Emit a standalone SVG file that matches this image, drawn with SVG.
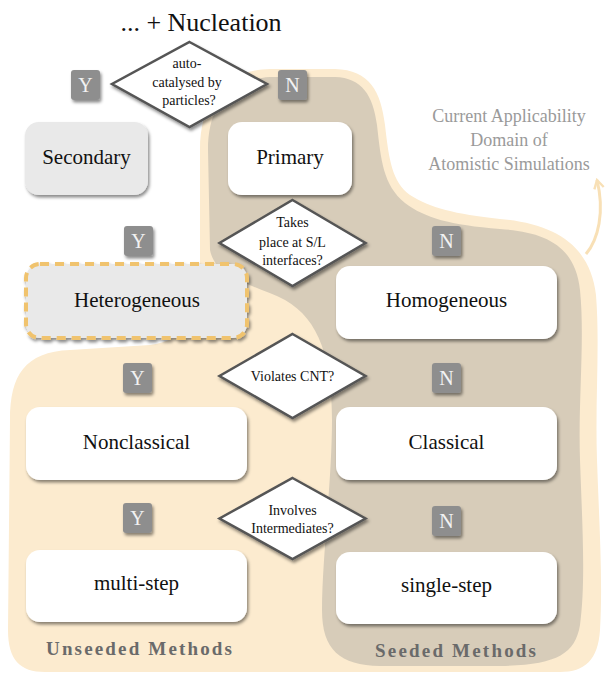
<svg xmlns="http://www.w3.org/2000/svg" width="606" height="673" viewBox="0 0 606 673">
<defs>
<filter id="sh" x="-20%" y="-20%" width="140%" height="150%">
<feDropShadow dx="1.5" dy="2.5" stdDeviation="1.5" flood-color="#000" flood-opacity="0.45"/>
</filter>
<marker id="ah" viewBox="0 0 10 10" refX="8" refY="5" markerWidth="4" markerHeight="4" orient="auto" markerUnits="strokeWidth">
<path d="M1,1 L8,5 L1,9" fill="none" stroke="#f8e0b6" stroke-width="2"/>
</marker>
<style>
.box{fill:#fff;filter:url(#sh)}
.gbox{fill:#e9e9e9;filter:url(#sh)}
.dia{fill:#fff;stroke:#555;stroke-width:2.5;filter:url(#sh)}
.yn{fill:#8e8e8e;filter:url(#sh)}
</style>
</defs>
<g id="background">
<path d="M200 150 C200 100 225 70 270 69 L335 69 C370 70 381 92 385 125 C389 160 392 182 410 195 C430 208 455 214 500 219 C555 224 590 245 596 295 C600 345 595 400 597 460 C599 520 603 580 600 630 C598 660 585 672 560 672 L45 672 C20 672 8 660 8 630 L10 420 C10 375 25 352 70 350 L150 345 C190 340 200 310 200 270 Z" fill="#fcebcf"/>
<path d="M208 150 C208 110 225 80 270 77 L335 77 C362 78 373 95 377 125 C381 160 383 185 405 203 C425 218 450 225 500 229 C545 232 575 245 580 290 C585 340 578 400 580 460 C582 520 586 580 580 625 C575 655 555 665 500 666 L380 666 C340 665 322 650 322 610 C322 560 332 480 332 420 C332 360 320 320 285 300 C255 285 215 278 210 250 Z" fill="#d7ccb9"/>
</g>
<g id="connectors">
<path d="M586 254 C598 240 605 212 597 180" fill="none" stroke="#f8e0b6" stroke-width="3" marker-end="url(#ah)"/>
</g>
<g font-family="Liberation Serif, DejaVu Serif, serif" fill="#111" text-anchor="middle">
<g id="title"><text x="201" y="31" font-size="26" font-family="Liberation Serif, serif">... + Nucleation</text></g>
<g id="d1" font-size="14">
<polygon class="dia" points="189.5,42 267,84 189.5,127 112,84"/>
<text x="187" y="68" font-family="Liberation Serif, serif">auto-</text>
<text x="187" y="87" font-family="Liberation Serif, serif">catalysed by</text>
<text x="189" y="105" font-family="Liberation Serif, serif">particles?</text>
</g>
<g id="y1"><rect class="yn" x="71" y="70" width="29" height="30" rx="3"/><text x="85.5" y="92" font-size="20" fill="#f2f2f2" font-family="Liberation Serif, serif">Y</text></g>
<g id="n1"><rect class="yn" x="278" y="70" width="29" height="30" rx="3"/><text x="292.5" y="92" font-size="20" fill="#f2f2f2" font-family="Liberation Serif, serif">N</text></g>
<g id="secondary" font-size="21"><rect class="gbox" x="25" y="122" width="123" height="73" rx="14"/><text x="86.5" y="164" font-family="Liberation Serif, serif">Secondary</text></g>
<g id="primary" font-size="21"><rect class="box" x="228" y="122" width="124" height="73" rx="14"/><text x="290" y="164" font-family="Liberation Serif, serif">Primary</text></g>
<g id="domain-label" fill="#9a9a9a" font-size="18">
<text x="509" y="122" font-family="Liberation Serif, serif">Current Applicability</text>
<text x="509" y="146" font-family="Liberation Serif, serif">Domain of</text>
<text x="509" y="170" font-family="Liberation Serif, serif">Atomistic Simulations</text>
</g>
<g id="d2" font-size="14">
<polygon class="dia" points="292.5,200 365.5,243 292.5,286 219.5,243"/>
<text x="292.5" y="226.5" font-family="Liberation Serif, serif">Takes</text>
<text x="292.5" y="246.5" font-family="Liberation Serif, serif">place at S/L</text>
<text x="292.5" y="264.5" font-family="Liberation Serif, serif">interfaces?</text>
</g>
<g id="y2"><rect class="yn" x="124" y="226" width="29" height="30" rx="3"/><text x="138.5" y="248" font-size="20" fill="#f2f2f2" font-family="Liberation Serif, serif">Y</text></g>
<g id="n2"><rect class="yn" x="432" y="226" width="29" height="30" rx="3"/><text x="446.5" y="248" font-size="20" fill="#f2f2f2" font-family="Liberation Serif, serif">N</text></g>
<g id="heterogeneous" font-size="21"><rect class="gbox" x="26" y="264" width="221" height="74" rx="14" stroke="#f0c36e" stroke-width="4" stroke-dasharray="9,6"/><text x="137" y="307" font-family="Liberation Serif, serif">Heterogeneous</text></g>
<g id="homogeneous" font-size="21"><rect class="box" x="336" y="266" width="221" height="73" rx="14"/><text x="446.5" y="307" font-family="Liberation Serif, serif">Homogeneous</text></g>
<g id="d3" font-size="14">
<polygon class="dia" points="292.5,334 365.5,376 292.5,418 219.5,376"/>
<text x="292.5" y="381" font-family="Liberation Serif, serif">Violates CNT?</text>
</g>
<g id="y3"><rect class="yn" x="123" y="363" width="29" height="30" rx="3"/><text x="137.5" y="385" font-size="20" fill="#f2f2f2" font-family="Liberation Serif, serif">Y</text></g>
<g id="n3"><rect class="yn" x="432" y="363" width="29" height="30" rx="3"/><text x="446.5" y="385" font-size="20" fill="#f2f2f2" font-family="Liberation Serif, serif">N</text></g>
<g id="nonclassical" font-size="21"><rect class="box" x="26" y="407" width="221" height="73" rx="14"/><text x="136.5" y="449" font-family="Liberation Serif, serif">Nonclassical</text></g>
<g id="classical" font-size="21"><rect class="box" x="336" y="407" width="221" height="73" rx="14"/><text x="446.5" y="449" font-family="Liberation Serif, serif">Classical</text></g>
<g id="d4" font-size="14">
<polygon class="dia" points="292.5,478 365.5,518.5 292.5,559 219.5,518.5"/>
<text x="292.5" y="515" font-family="Liberation Serif, serif">Involves</text>
<text x="292.5" y="533" font-family="Liberation Serif, serif">Intermediates?</text>
</g>
<g id="y4"><rect class="yn" x="123" y="503" width="29" height="30" rx="3"/><text x="137.5" y="525" font-size="20" fill="#f2f2f2" font-family="Liberation Serif, serif">Y</text></g>
<g id="n4"><rect class="yn" x="432" y="506" width="29" height="30" rx="3"/><text x="446.5" y="528" font-size="20" fill="#f2f2f2" font-family="Liberation Serif, serif">N</text></g>
<g id="multi-step" font-size="21"><rect class="box" x="26" y="550" width="221" height="72" rx="14"/><text x="136.5" y="590" font-family="Liberation Serif, serif">multi-step</text></g>
<g id="single-step" font-size="21"><rect class="box" x="336" y="552" width="221" height="72" rx="14"/><text x="446.5" y="592" font-family="Liberation Serif, serif">single-step</text></g>
<g id="method-labels" font-weight="bold" font-size="19" fill="#6a6a6a" text-anchor="start">
<text x="46" y="655" textLength="186" lengthAdjust="spacing" font-family="Liberation Serif, serif">Unseeded Methods</text>
<text x="375" y="657" textLength="161" lengthAdjust="spacing" font-family="Liberation Serif, serif">Seeded Methods</text>
</g>
</g>
</svg>
